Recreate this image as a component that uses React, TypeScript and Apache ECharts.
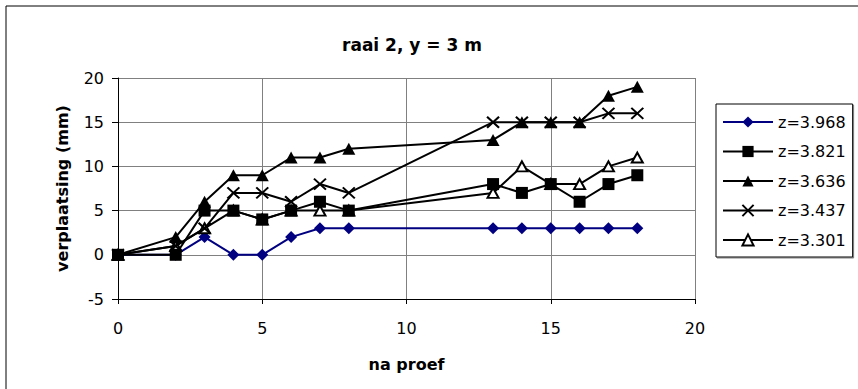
import React, { useEffect, useRef } from "react";
import * as echarts from "echarts";

// Measurement positions along the x axis (na proef)
const proef = [0, 2, 3, 4, 5, 6, 7, 8, 13, 14, 15, 16, 17, 18];

// Displacement (mm) per depth level z
const z3968 = [0, 0, 2, 0, 0, 2, 3, 3, 3, 3, 3, 3, 3, 3];
const z3821 = [0, 0, 5, 5, 4, 5, 6, 5, 8, 7, 8, 6, 8, 9];
const z3636 = [0, 2, 6, 9, 9, 11, 11, 12, 13, 15, 15, 15, 18, 19];
const z3437 = [0, 1, 3, 7, 7, 6, 8, 7, 15, 15, 15, 15, 16, 16];
const z3301 = [0, 1, 3, 5, 4, 5, 5, 5, 7, 10, 8, 8, 10, 11];

const seriesNames = ["z=3.968", "z=3.821", "z=3.636", "z=3.437", "z=3.301"];

const FONT = "DejaVu Sans";
const CROSS = "path://M0,0L10,10M10,0L0,10";

const pairs = (ys: number[]) => proef.map((x, i) => [x, ys[i]]);

export default function App() {
  const ref = useRef<HTMLDivElement>(null);

  useEffect(() => {
    if (!ref.current) return;
    const chart = echarts.init(ref.current, undefined, { renderer: "svg" });

    const black = "#000000";
    const navy = "#000080";

    const line = (
      name: string,
      ys: number[],
      color: string,
      symbol: string,
      symbolSize: number[],
      itemStyle: any,
      z: number
    ) => ({
      name,
      type: "line",
      data: pairs(ys),
      symbol,
      symbolSize,
      showAllSymbol: true,
      z,
      lineStyle: { color, width: 2 },
      itemStyle,
      emphasis: { disabled: true },
    });

    chart.setOption({
      animation: false,
      backgroundColor: "#ffffff",
      title: {
        text: "raai 2, y = 3 m",
        left: 407,
        top: 31,
        textAlign: "center",
        textStyle: { fontFamily: FONT, fontSize: 17, fontWeight: "bold", color: black },
      },
      grid: { left: 118, right: 163, top: 78, bottom: 90 },
      xAxis: {
        type: "value",
        min: 0,
        max: 20,
        interval: 5,
        name: "na proef",
        nameLocation: "middle",
        nameGap: 57,
        nameTextStyle: { fontFamily: FONT, fontSize: 16, fontWeight: "bold", color: black },
        axisLine: { onZero: false, lineStyle: { color: black, width: 1 } },
        axisTick: { show: true, inside: false, length: 5, lineStyle: { color: black } },
        axisLabel: { margin: 21, fontFamily: FONT, fontSize: 16, color: black },
        splitLine: { show: true, lineStyle: { color: "#808080", width: 1 } },
      },
      yAxis: {
        type: "value",
        min: -5,
        max: 20,
        interval: 5,
        name: "verplaatsing (mm)",
        nameLocation: "middle",
        nameGap: 48,
        nameTextStyle: { fontFamily: FONT, fontSize: 16, fontWeight: "bold", color: black },
        axisLine: { show: true, lineStyle: { color: black, width: 1 } },
        axisTick: { show: true, inside: false, length: 6, lineStyle: { color: black } },
        axisLabel: { margin: 14, fontFamily: FONT, fontSize: 16, color: black },
        splitLine: { show: true, lineStyle: { color: "#808080", width: 1 } },
      },
      legend: {
        orient: "vertical",
        left: 716,
        top: 104,
        padding: [10, 7, 9, 6],
        itemWidth: 50,
        itemHeight: 14,
        itemGap: 13.5,
        borderColor: black,
        borderWidth: 1,
        backgroundColor: "#ffffff",
        shadowColor: "#808080",
        shadowOffsetX: 1,
        shadowOffsetY: 1,
        data: seriesNames,
        textStyle: { fontFamily: FONT, fontSize: 16, lineHeight: 16, color: black },
      },
      series: [
        line(seriesNames[0], z3968, navy, "diamond", [12, 12], { color: navy }, 2),
        line(seriesNames[1], z3821, black, "rect", [12, 12], { color: black }, 6),
        line(seriesNames[2], z3636, black, "triangle", [13, 12], { color: black }, 4),
        line(seriesNames[3], z3437, black, CROSS, [12, 11], { color: black, borderColor: black, borderWidth: 2 }, 5),
        line(seriesNames[4], z3301, black, "triangle", [11, 10], { color: "#ffffff", borderColor: black, borderWidth: 2 }, 3),
      ],
      graphic: [
        {
          type: "rect",
          shape: { x: 6, y: 6, width: 900, height: 420 },
          style: { fill: "none", stroke: black, lineWidth: 1 },
          silent: true,
          z: -1,
        },
      ],
    });

    return () => chart.dispose();
  }, []);

  return (
    <div
      ref={ref}
      style={{ position: "fixed", left: 0, top: 0, width: 858, height: 389 }}
    />
  );
}
